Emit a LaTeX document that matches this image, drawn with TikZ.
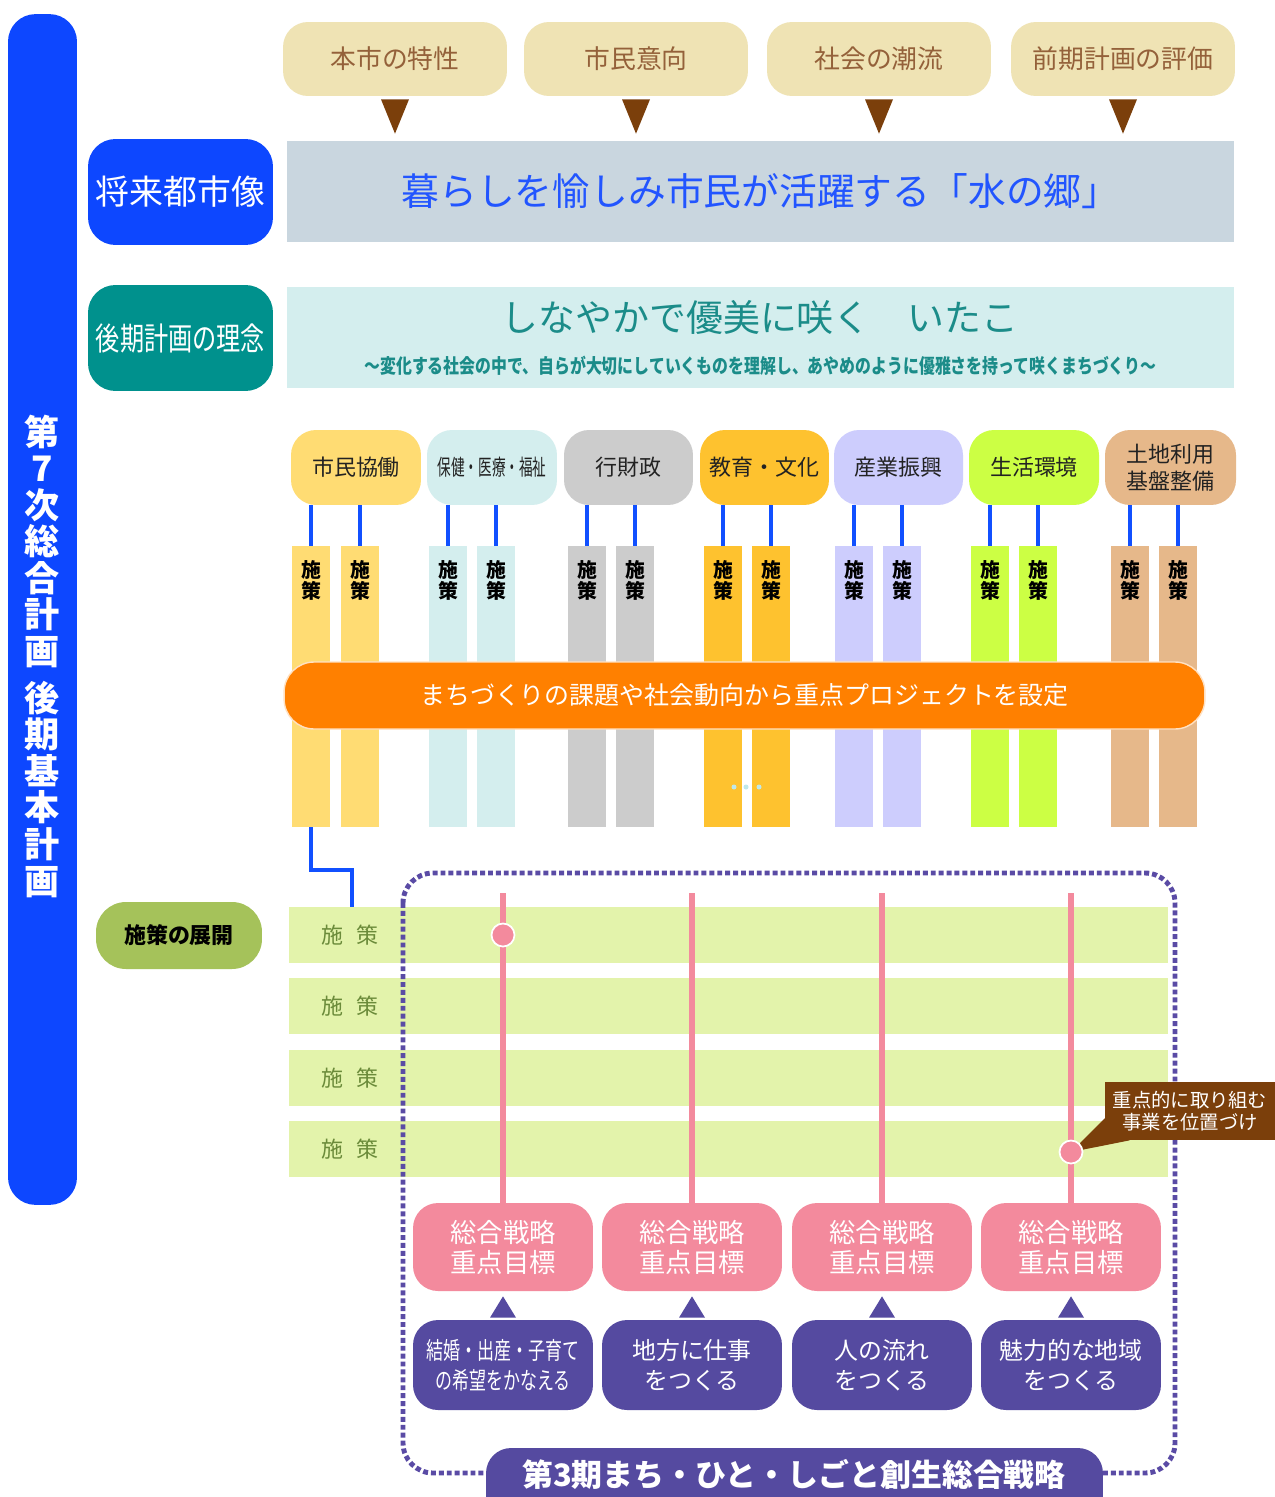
\documentclass[tikz,border=0pt]{standalone}
\usepackage{fontspec}
\setmainfont{Noto Sans CJK JP}
\usepackage{graphicx}
\usetikzlibrary{calc}
\definecolor{mainblue}{HTML}{0D47FF}
\definecolor{bluelinec}{HTML}{1150FF}
\definecolor{beige}{HTML}{EFE3B4}
\definecolor{beigetext}{HTML}{94613A}
\definecolor{tribrown}{HTML}{7B3F0B}
\definecolor{visgray}{HTML}{C9D6DF}
\definecolor{visblue}{HTML}{2255FF}
\definecolor{tealc}{HTML}{00918D}
\definecolor{ideacyan}{HTML}{D4EEEE}
\definecolor{ideateal}{HTML}{1B8C89}
\definecolor{catA}{HTML}{FFDC73}
\definecolor{catB}{HTML}{D4EEEE}
\definecolor{catC}{HTML}{CCCCCC}
\definecolor{catD}{HTML}{FEC22F}
\definecolor{catE}{HTML}{CDCDFD}
\definecolor{catF}{HTML}{CCFF44}
\definecolor{catG}{HTML}{E6B88A}
\definecolor{bandorange}{HTML}{FF8000}
\definecolor{bandedge}{HTML}{FFE1C2}
\definecolor{dotcyan}{HTML}{BFE8EA}
\definecolor{devgreen}{HTML}{A5C25A}
\definecolor{rowgreen}{HTML}{E3F3AB}
\definecolor{rowtext}{HTML}{6B8B3A}
\definecolor{framepurple}{HTML}{5A4BA5}
\definecolor{pinkc}{HTML}{F38A9D}
\definecolor{purplec}{HTML}{554AA0}
\definecolor{cattext}{HTML}{222222}
\newcommand\fz[2]{\fontsize{#1pt}{#2pt}\selectfont}

\begin{document}
\begin{tikzpicture}[x=0.02cm,y=-0.02cm,
  box/.style={draw=none, inner sep=0pt, align=center},
  blueline/.style={draw=bluelinec, line width=2.4pt},
  pinkline/.style={draw=pinkc, line width=3.4pt},
  pilltext/.style={font=\bfseries\fz{11.3}{11.9}, align=center, inner sep=0pt, text=black},
]
\useasboundingbox (0,0) rectangle (1274,1497);
\fill[white] (0,0) rectangle (1274,1497);

% left vertical bar
\node[box, fill=mainblue, rounded corners=0.55cm, minimum width=1.38cm, minimum height=23.82cm] (bar) at (42.5,609.5) {};
\node[box, text=white, font=\bfseries\fz{20}{20.8}] (bartext) at (42.5,656) {第\\7\\次\\総\\合\\計\\画\\[6pt]後\\期\\基\\本\\計\\画};

% vision
\node[box, fill=visgray, minimum width=18.94cm, minimum height=2.02cm, text=visblue, font=\fz{21.5}{24}] (vision) at (760.5,191.5) {暮らしを愉しみ市民が活躍する「水の郷」};

% top inputs
\foreach \i/\x/\t in {1/395/本市の特性, 2/636/市民意向, 3/879/社会の潮流, 4/1123/前期計画の評価} {
  \node[box, fill=beige, rounded corners=0.5cm, minimum width=4.48cm, minimum height=1.48cm, text=beigetext, font=\fz{14.7}{16}] (top\i) at (\x,59) {\t};
  \fill[tribrown] ($(top\i.south)+(-14,3)$) -- ($(top\i.south)+(14,3)$) -- ($(top\i.south |- vision.north)+(0,-7)$) -- cycle;
}

% labels
\node[box, fill=mainblue, rounded corners=0.55cm, minimum width=3.7cm, minimum height=2.12cm, text=white, font=\fz{19.3}{20}] (vlabel) at (180.5,192) {将来都市像};
\node[box, fill=tealc, rounded corners=0.55cm, minimum width=3.7cm, minimum height=2.12cm, text=white, font=\fz{18.1}{20}] (ilabel) at (180.5,338) {\scalebox{0.76}[1]{後期計画の理念}};

% idea
\node[box, fill=ideacyan, minimum width=18.94cm, minimum height=2.02cm] (idea) at (760.5,337.5) {};
\node[box, text=ideateal, font=\fz{21}{22}] (ideatitle) at (760,318) {しなやかで優美に咲く　いたこ};
\node[box, text=ideateal, font=\bfseries\fz{11.3}{12}] (ideasub) at (760.5,366) {\scalebox{0.8}[1]{～変化する社会の中で、自らが大切にしていくものを理解し、あやめのように優雅さを持って咲くまちづくり～}};

% categories
\foreach \i/\x/\w/\c/\t in {1/356/2.6/catA/{市民協働}, 2/492/2.6/catB/{\scalebox{0.62}[1]{保健・医療・福祉}}, 3/628.5/2.58/catC/{行財政}, 4/764.5/2.58/catD/{教育・文化}, 5/898.5/2.58/catE/{産業振興}, 6/1034/2.6/catF/{生活環境}, 7/1170.5/2.62/catG/{土地利用\\基盤整備}} {
  \node[box, fill=\c, rounded corners=0.5cm, minimum width=\w cm, minimum height=1.5cm, text=cattext, font=\fz{12.5}{15}] (cat\i) at (\x,467.5) {\t};
}

% pillars
\foreach \i/\xa/\xb/\c in {1/311/360/catA, 2/448/496/catB, 3/587/635/catC, 4/723/771/catD, 5/854/902/catE, 6/990/1038/catF, 7/1130/1178/catG} {
  \node[box, fill=\c, minimum width=0.76cm, minimum height=5.62cm] (p\i a) at (\xa,686.5) {};
  \node[box, fill=\c, minimum width=0.76cm, minimum height=5.62cm] (p\i b) at (\xb,686.5) {};
  \node[pilltext] (pt\i a) at ($(p\i a.north)+(0,35)$) {施\\策};
  \node[pilltext] (pt\i b) at ($(p\i b.north)+(0,35)$) {施\\策};
  \draw[blueline] (p\i a.north) -- (p\i a.north |- cat\i.south);
  \draw[blueline] (p\i b.north) -- (p\i b.north |- cat\i.south);
}

% orange band
\node[box, fill=bandorange, draw=bandedge, line width=0.8pt, rounded corners=0.6cm, minimum width=18.42cm, minimum height=1.34cm, text=white, font=\fz{14.2}{15}] (band) at (744.5,695.5) {まちづくりの課題や社会動向から重点プロジェクトを設定};

% small dots
\foreach \j/\x in {1/734, 2/746, 3/759} {
  \node[circle, fill=dotcyan, inner sep=0pt, minimum size=0.1cm] (dd\j) at (\x,787) {};
}

% development label
\node[box, fill=devgreen, rounded corners=0.6cm, minimum width=3.32cm, minimum height=1.34cm, text=black, font=\bfseries\fz{12.5}{13}] (dev) at (179,935.5) {施策の展開};

% rows
\foreach \i/\y in {1/935, 2/1006, 3/1078, 4/1149} {
  \node[box, fill=rowgreen, minimum width=17.58cm, minimum height=1.12cm] (row\i) at (728.5,\y) {};
  \node[box, text=rowtext, font=\fz{12.5}{13}] (rowt\i) at (350,\y) {施\hspace{0.28cm}策};
}
\draw[blueline] (p1a.south) -- ++(0,43) -| ($(row1.north west)+(63,0)$);

% dotted frame
\draw[framepurple, line width=2.8pt, dash pattern=on 2.8pt off 1.7pt, rounded corners=0.6cm] (403,873) rectangle (1175,1473);

% goals and strategies
\foreach \i/\x/\t in {1/503/{\scalebox{0.71}[1]{結婚・出産・子育て}\\\scalebox{0.71}[1]{の希望をかなえる}}, 2/692/{地方に仕事\\をつくる}, 3/882/{人の流れ\\をつくる}, 4/1071/{魅力的な地域\\をつくる}} {
  \node[box, fill=pinkc, rounded corners=0.5cm, minimum width=3.6cm, minimum height=1.76cm, text=white, font=\fz{15}{17}] (goal\i) at (\x,1247) {総合戦略\\重点目標};
  \node[box, fill=purplec, rounded corners=0.5cm, minimum width=3.6cm, minimum height=1.8cm, text=white, font=\fz{13.6}{17}] (strat\i) at (\x,1365) {\t};
  \coordinate (ptop\i) at (\x,893);
  \draw[pinkline] (ptop\i) -- (goal\i.north);
  \fill[purplec] ($(strat\i.north)+(-13,-2)$) -- ($(strat\i.north)+(13,-2)$) -- ($(goal\i.south)+(0,5)$) -- cycle;
}

% dots on lines
\node[circle, fill=pinkc, draw=white, line width=1pt, minimum size=0.46cm, inner sep=0pt] (dot1) at (503,935) {};
\coordinate (d2c) at (1071,1152);
\node[box, fill=tribrown, minimum width=3.4cm, minimum height=1.16cm, text=white, font=\fz{11}{12.5}] (call) at (1190,1111) {重点的に取り組む\\事業を位置づけ};
\fill[tribrown] ($(call.south west)+(0,-22)$) -- ($(call.south west)+(25,0)$) -- (d2c) -- cycle;
\node[circle, fill=pinkc, draw=white, line width=1pt, minimum size=0.46cm, inner sep=0pt] (dot2) at (d2c) {};

% bottom banner
\begin{scope}
  \clip (0,0) rectangle (1274,1497);
  \node[box, fill=purplec, rounded corners=0.5cm, minimum width=12.34cm, minimum height=1.6cm] (bottom) at (794.5,1488) {};
\end{scope}
\node[box, text=white, font=\bfseries\fz{17.6}{18}] (bottomtext) at (794,1474) {第3期まち・ひと・しごと創生総合戦略};
\end{tikzpicture}
\end{document}
